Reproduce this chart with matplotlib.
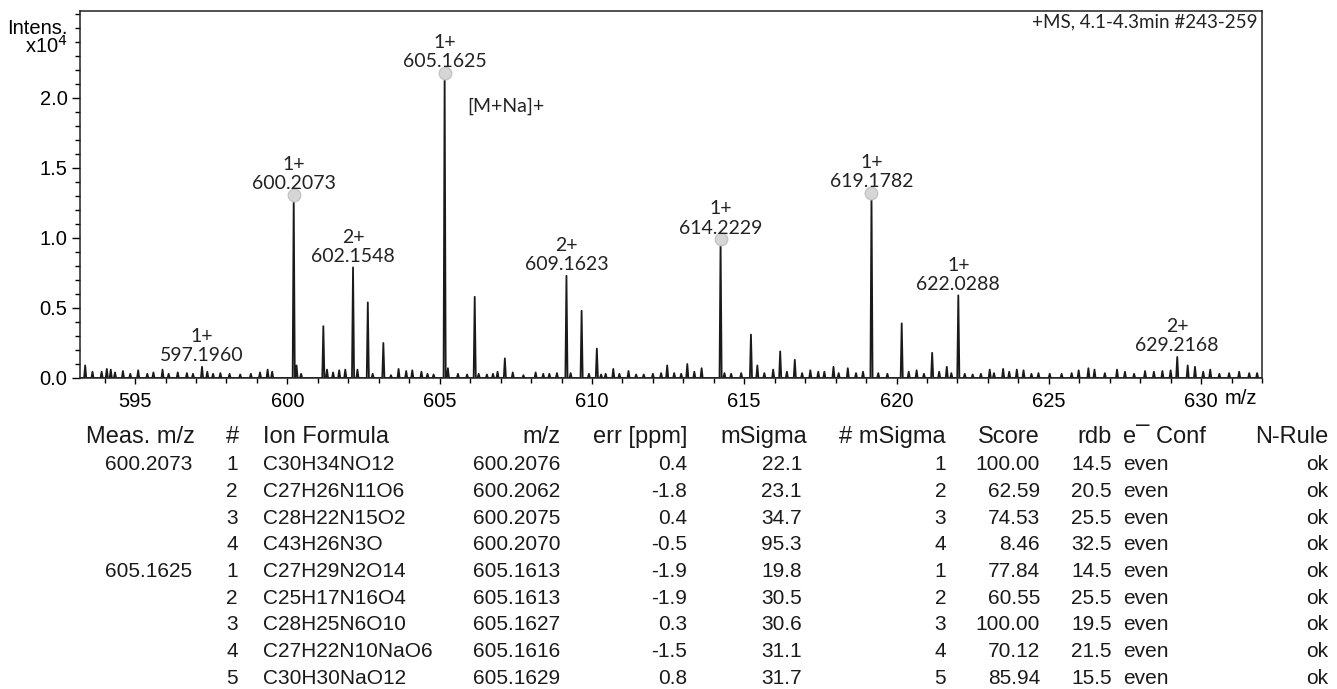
import numpy as np
import matplotlib
matplotlib.use("Agg")
import matplotlib.pyplot as plt
from matplotlib.ticker import MultipleLocator

# --- spectrum peaks (m/z, intensity in 1e4 counts) ---
peak_mz = [593.36, 593.6, 593.9, 594.07, 594.2, 594.34, 594.6, 594.84, 595.1, 595.4,
           595.6, 595.9, 596.1, 596.4, 596.7, 596.9, 597.196, 597.37, 597.56, 597.8,
           598.1, 598.45, 598.8, 599.1, 599.35, 599.5, 600.2073, 600.3, 600.45, 601.18,
           601.3, 601.5, 601.7, 601.9, 602.1548, 602.3, 602.64, 602.8, 603.15, 603.4,
           603.65, 603.9, 604.1, 604.4, 604.6, 604.8, 605.1625, 605.27, 605.6, 605.9,
           606.15, 606.28, 606.55, 606.75, 606.9, 607.14, 607.4, 607.75, 608.15, 608.4,
           608.6, 608.85, 609.1623, 609.3, 609.66, 609.9, 610.16, 610.3, 610.45, 610.7,
           610.9, 611.2, 611.45, 611.7, 612.0, 612.27, 612.47, 612.7, 612.93, 613.13,
           613.36, 613.6, 614.2229, 614.35, 614.57, 614.9, 615.22, 615.43, 615.66, 615.95,
           616.18, 616.4, 616.66, 616.9, 617.17, 617.43, 617.63, 617.93, 618.1, 618.4,
           618.67, 618.9, 619.1782, 619.4, 619.7, 620.17, 620.4, 620.66, 620.9, 621.17,
           621.4, 621.65, 621.8, 622.0288, 622.24, 622.5, 622.77, 623.06, 623.2, 623.5,
           623.7, 623.95, 624.17, 624.43, 624.66, 625.03, 625.42, 625.75, 625.98, 626.3,
           626.5, 626.84, 627.24, 627.5, 627.8, 628.16, 628.45, 628.73, 629.0, 629.2168,
           629.56, 629.8, 630.07, 630.3, 630.6, 630.92, 631.25, 631.58, 631.84]
peak_int = [0.09, 0.045, 0.045, 0.065, 0.06, 0.04, 0.05, 0.03, 0.055, 0.03,
            0.04, 0.06, 0.03, 0.04, 0.035, 0.03, 0.08, 0.045, 0.03, 0.035,
            0.03, 0.025, 0.03, 0.04, 0.06, 0.045, 1.31, 0.09, 0.03, 0.37,
            0.06, 0.04, 0.055, 0.06, 0.79, 0.06, 0.54, 0.03, 0.25, 0.02,
            0.065, 0.05, 0.055, 0.045, 0.03, 0.025, 2.18, 0.07, 0.03, 0.025,
            0.58, 0.03, 0.025, 0.03, 0.045, 0.14, 0.04, 0.02, 0.04, 0.03,
            0.03, 0.035, 0.73, 0.035, 0.48, 0.03, 0.21, 0.025, 0.03, 0.065,
            0.03, 0.05, 0.025, 0.025, 0.03, 0.035, 0.09, 0.035, 0.03, 0.10,
            0.045, 0.07, 0.99, 0.035, 0.03, 0.035, 0.31, 0.09, 0.035, 0.06,
            0.19, 0.045, 0.13, 0.035, 0.055, 0.045, 0.045, 0.08, 0.035, 0.07,
            0.035, 0.045, 1.32, 0.035, 0.03, 0.39, 0.045, 0.055, 0.03, 0.18,
            0.045, 0.08, 0.035, 0.59, 0.03, 0.025, 0.03, 0.06, 0.035, 0.065,
            0.045, 0.06, 0.055, 0.03, 0.035, 0.03, 0.03, 0.035, 0.055, 0.07,
            0.06, 0.035, 0.06, 0.045, 0.03, 0.05, 0.045, 0.05, 0.055, 0.15,
            0.09, 0.08, 0.045, 0.06, 0.03, 0.035, 0.045, 0.035, 0.035]

# labelled peaks
label_mz = [597.1960, 600.2073, 602.1548, 605.1625, 609.1623, 614.2229, 619.1782, 622.0288, 629.2168]
label_charge = ["1+", "1+", "2+", "1+", "2+", "1+", "1+", "1+", "2+"]
marked_mz = [600.2073, 605.1625, 614.2229, 619.1782]
adduct_mz = 605.1625
adduct_text = "[M+Na]+"

# --- formula table ---
col_headers = ["Meas. m/z", "#", "Ion Formula", "m/z", "err [ppm]", "mSigma",
               "# mSigma", "Score", "rdb", "e\u00af Conf", "N-Rule"]
meas_mz = ["600.2073", "", "", "", "605.1625", "", "", "", ""]
rank = [1, 2, 3, 4, 1, 2, 3, 4, 5]
ion_formula = ["C30H34NO12", "C27H26N11O6", "C28H22N15O2", "C43H26N3O",
               "C27H29N2O14", "C25H17N16O4", "C28H25N6O10", "C27H22N10NaO6", "C30H30NaO12"]
calc_mz = [600.2076, 600.2062, 600.2075, 600.2070, 605.1613, 605.1613, 605.1627, 605.1616, 605.1629]
err_ppm = [0.4, -1.8, 0.4, -0.5, -1.9, -1.9, 0.3, -1.5, 0.8]
msigma = [22.1, 23.1, 34.7, 95.3, 19.8, 30.5, 30.6, 31.1, 31.7]
msigma_rank = [1, 2, 3, 4, 1, 2, 3, 4, 5]
score = [100.00, 62.59, 74.53, 8.46, 77.84, 60.55, 100.00, 70.12, 85.94]
rdb = [14.5, 20.5, 25.5, 32.5, 14.5, 25.5, 19.5, 21.5, 15.5]
e_conf = ["even"] * 9
n_rule = ["ok"] * 9

W, H = 1337, 689
fig = plt.figure(figsize=(W / 100, H / 100), dpi=100)
ax = fig.add_axes([80 / W, 1 - 378 / H, (1262 - 80) / W, (378 - 11) / H])

# profile trace built from the sticks
mz = np.array(peak_mz)
it = np.array(peak_int)
order = np.argsort(mz)
hw = 0.035
xs, ys = [593.19], [0.0]
for m, h in zip(mz[order], it[order]):
    xs += [m - hw, m, m + hw]
    ys += [0.0, h, 0.0]
xs.append(632.0)
ys.append(0.0)
ax.plot(xs, ys, color="#1a1a1a", lw=1.3)

# grey circles on the picked peaks
mk_h = [it[np.argmin(abs(mz - m))] for m in marked_mz]
ax.plot(marked_mz, mk_h, "o", ms=9, mfc="#d6d6d6", mec="#c4c4c4", mew=1, zorder=3)

lab_font = "Lato"
for m, c in zip(label_mz, label_charge):
    h = it[np.argmin(abs(mz - m))]
    ax.annotate(f"{c}\n{m:.4f}", xy=(m, h), xytext=(0, 2), textcoords="offset points",
                ha="center", va="bottom", fontsize=14, family=lab_font,
                linespacing=1.15, color="#222222")

ax.annotate(adduct_text, xy=(adduct_mz, 1.94), xytext=(16, 0), textcoords="offset points",
            fontsize=14, family=lab_font, ha="left", va="center", color="#222222")
ax.text(0.9958, 0.970, "+MS, 4.1-4.3min #243-259", transform=ax.transAxes,
        ha="right", va="center", fontsize=13.5, family=lab_font, color="#222222")

ax.set_xlim(593.19, 632.0)
ax.set_ylim(0, 2.621)
ax.set_xticks([595, 600, 605, 610, 615, 620, 625, 630])
ax.xaxis.set_minor_locator(MultipleLocator(1))
ax.set_yticks([0, 0.5, 1.0, 1.5, 2.0])
ax.set_yticklabels(["0.0", "0.5", "1.0", "1.5", "2.0"])
ax.yaxis.set_minor_locator(MultipleLocator(0.1))
ax.tick_params(axis="x", which="major", length=4, width=1, pad=6, labelsize=14.5)
ax.tick_params(axis="x", which="minor", length=3.5, width=1)
ax.tick_params(axis="y", which="major", length=6, width=1, pad=3, labelsize=14.5)
ax.tick_params(axis="y", which="minor", length=3.5, width=1)
for lab in ax.get_xticklabels() + ax.get_yticklabels():
    lab.set_family("Liberation Sans")
for s in ax.spines.values():
    s.set_linewidth(1.1)
    s.set_color("#222222")

# axis captions
fig.text(68 / W, 1 - 28 / H, "Intens.", ha="right", va="center", fontsize=14.5,
         family="Liberation Sans")
fig.text(68 / W, 1 - 46 / H, "x10$^4$", ha="right", va="center", fontsize=14.5,
         family="Liberation Sans")
fig.text(1225 / W, 1 - 398 / H, "m/z", ha="left", va="center", fontsize=14.5,
         family="Liberation Sans")

# table
hfont = dict(fontsize=17, family="Liberation Sans", color="#1a1a1a", va="center")
tfont = dict(fontsize=15, family="Liberation Sans", color="#1a1a1a", va="center")
col_x = [195, 232, 263, 560, 687, 807, 946, 1040, 1112, 1123, 1328]
col_ha = ["right", "center", "left", "right", "right", "right", "right", "right",
          "right", "left", "right"]
y_head = 437
for txt, x, ha in zip(col_headers, col_x, col_ha):
    fig.text(x / W, 1 - y_head / H, txt, ha=ha, **hfont)

rows = zip(meas_mz, rank, ion_formula, calc_mz, err_ppm, msigma, msigma_rank,
           score, rdb, e_conf, n_rule)
for i, r in enumerate(rows):
    y = 465 + 26.65 * i
    cells = [r[0], str(r[1]), r[2], f"{r[3]:.4f}", f"{r[4]:.1f}", f"{r[5]:.1f}",
             str(r[6]), f"{r[7]:.2f}", f"{r[8]:.1f}", r[9], r[10]]
    for j, (txt, x, ha) in enumerate(zip(cells, col_x, col_ha)):
        if j == 0:
            x = 192
        if j == 5:
            x = 802
        fig.text(x / W, 1 - y / H, txt, ha=ha, **tfont)

fig.savefig("out.png", dpi=100)
